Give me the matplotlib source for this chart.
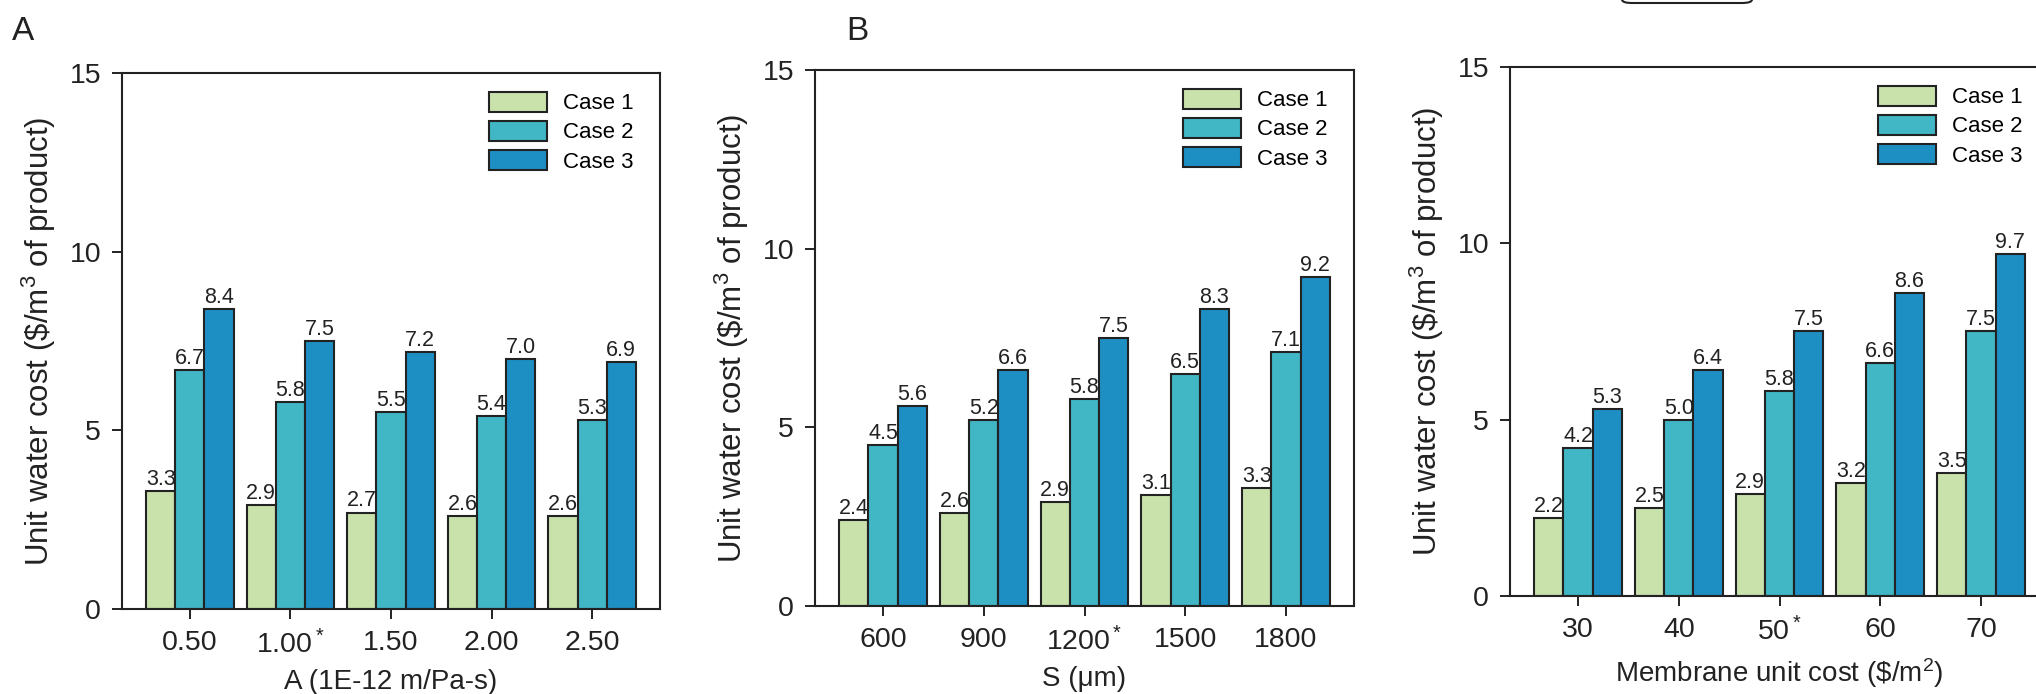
import matplotlib
matplotlib.use("Agg")
from matplotlib import pyplot as plt
from matplotlib.patches import FancyBboxPatch
import numpy as np

plt.rcParams['font.family'] = ['Liberation Sans', 'DejaVu Sans']
plt.rcParams['mathtext.fontset'] = 'custom'
plt.rcParams['mathtext.rm'] = 'Liberation Sans'
plt.rcParams['mathtext.it'] = 'Liberation Sans:italic'

cases = ["Case 1", "Case 2", "Case 3"]
colors = ["#c9e2ab", "#41b6c4", "#1d8fc2"]

# panel A: water permeability
a_ticks = ["0.50", "1.00$\\mathregular{^*}$", "1.50", "2.00", "2.50"]
a_case1 = [3.3, 2.9, 2.7, 2.6, 2.6]
a_case2 = [6.7, 5.8, 5.5, 5.4, 5.3]
a_case3 = [8.4, 7.5, 7.2, 7.0, 6.9]

# panel B: structural parameter
b_ticks = ["600", "900", "1200$\\mathregular{^*}$", "1500", "1800"]
b_case1 = [2.4, 2.6, 2.9, 3.1, 3.3]
b_case2 = [4.5, 5.2, 5.8, 6.5, 7.1]
b_case3 = [5.6, 6.6, 7.5, 8.3, 9.2]

# panel C: membrane cost
c_ticks = ["30", "40", "50$\\mathregular{^*}$", "60", "70"]
c_case1 = [2.2, 2.5, 2.9, 3.2, 3.5]
c_case2 = [4.2, 5.0, 5.8, 6.6, 7.5]
c_case3 = [5.3, 6.4, 7.5, 8.6, 9.7]

ylab = r"Unit water cost (\$/m$\mathregular{^3}$ of product)"

W, H = 2036, 694
fig = plt.figure(figsize=(W/100, H/100), dpi=100)

def panel(rect, ticks, series, xlabel):
    ax = fig.add_axes(rect)
    x = np.arange(len(ticks))
    bw = 0.29
    for k, (vals, lab, col) in enumerate(zip(series, cases, colors)):
        bars = ax.bar(x + (k-1)*bw, vals, bw, color=col, edgecolor="#222222",
                      linewidth=1.5, label=lab, zorder=2)
        for b, v in zip(bars, vals):
            ax.text(b.get_x() + b.get_width()/2, v + 0.03, "%.1f" % v,
                    ha="center", va="bottom", fontsize=15.5, color="#222222")
    ax.set_xlim(-0.675, 4.675)
    ax.set_ylim(0, 15)
    ax.set_yticks([0, 5, 10, 15])
    ax.set_xticks(x)
    ax.set_xticklabels(ticks)
    ax.tick_params(direction="out", length=7, width=1.4, labelsize=20.5,
                   color="#222222", labelcolor="#222222", pad=8)
    for s in ax.spines.values():
        s.set_linewidth(1.5)
        s.set_color("#222222")
    ax.set_xlabel(xlabel, fontsize=20, color="#222222", labelpad=7)
    ax.set_ylabel(ylab, fontsize=22.5, color="#222222", labelpad=8)
    ax.legend(loc="upper right", bbox_to_anchor=(0.975, 0.99), frameon=False,
              fontsize=16, handlelength=2.6, handleheight=1.0,
              labelspacing=0.3, handletextpad=0.7, borderaxespad=0.2)
    return ax

panel([122/W, 1-609/H, 538/W, 536/H], a_ticks,
      [a_case1, a_case2, a_case3], "A (1E-12 m/Pa-s)")
panel([815/W, 1-606/H, 539/W, 536/H], b_ticks,
      [b_case1, b_case2, b_case3], "S (\u03bcm)")
panel([1510/W, 1-596/H, 539/W, 529/H], c_ticks,
      [c_case1, c_case2, c_case3], "Membrane unit cost (\\$/m$\\mathregular{^2}$)")

fig.text(12/W, 1-16/H, "A", fontsize=24, va="top", ha="left", color="#222222")
fig.text(846/W, 1-16/H, "B", fontsize=24, va="top", ha="left", color="#222222")

# cut-off box at the top edge
fig.patches.append(FancyBboxPatch((1622/W, 1-3/H), 130/W, 0.06,
                                  boxstyle="round,pad=0,rounding_size=0.005",
                                  transform=fig.transFigure, facecolor="none",
                                  edgecolor="#222222", linewidth=1.5))

fig.savefig("out.png", dpi=100)
